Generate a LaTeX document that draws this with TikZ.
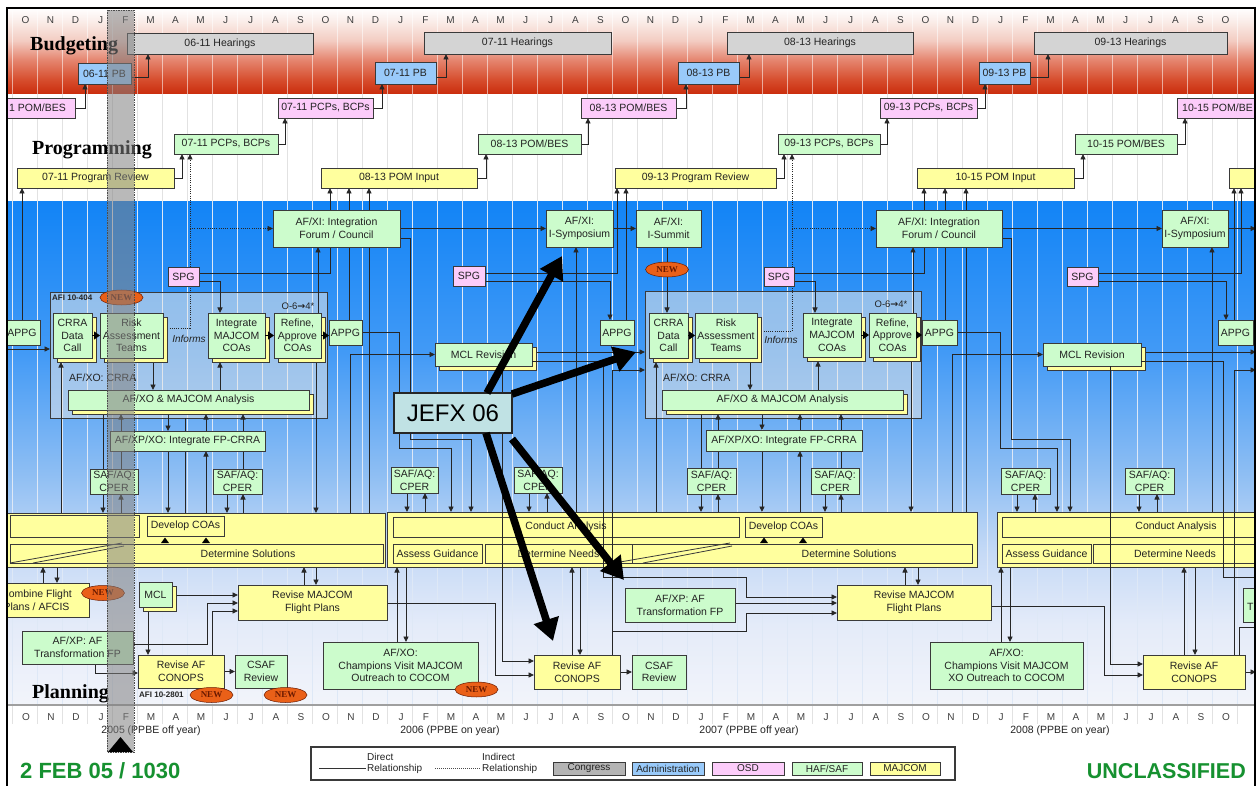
\documentclass[tikz,border=0pt]{standalone}
\usepackage{fontspec}
\setmainfont{Liberation Sans}
\setsansfont{Liberation Sans}
\newfontfamily\serifbold{Liberation Serif}
\newfontfamily\dejavu{DejaVu Sans}
\usetikzlibrary{arrows.meta,shapes.geometric,shadows}

\definecolor{congress}{RGB}{212,212,212}
\definecolor{admin}{RGB}{153,202,250}
\definecolor{osd}{RGB}{252,204,250}
\definecolor{hafsaf}{RGB}{204,252,204}
\definecolor{majcom}{RGB}{255,255,158}
\definecolor{boxline}{RGB}{58,58,58}
\definecolor{inktext}{RGB}{35,35,35}
\definecolor{neworange}{RGB}{234,96,24}
\definecolor{newtext}{RGB}{105,25,0}
\definecolor{jefxfill}{RGB}{192,226,228}
\definecolor{footgreen}{RGB}{22,145,48}
\definecolor{gridplan}{RGB}{222,232,246}
\definecolor{gridprog}{RGB}{226,226,226}
\definecolor{bud1}{RGB}{250,236,232}
\definecolor{bud2}{RGB}{243,204,194}
\definecolor{bud3}{RGB}{229,134,112}
\definecolor{bud4}{RGB}{214,76,44}
\definecolor{bud5}{RGB}{202,44,12}
\definecolor{pl0}{RGB}{242,244,250}
\definecolor{pl1}{RGB}{228,235,249}
\definecolor{pl2}{RGB}{198,218,246}
\definecolor{pl3}{RGB}{142,190,243}
\definecolor{pl4}{RGB}{66,154,246}
\definecolor{pl5}{RGB}{18,132,246}

\pgfdeclareverticalshading{budgetbg}{100bp}{color(0bp)=(bud5); color(25bp)=(bud5); color(33bp)=(bud4); color(45bp)=(bud3); color(56bp)=(bud2); color(67bp)=(bud1); color(75bp)=(white); color(100bp)=(white)}
\pgfdeclareverticalshading{planbg}{100bp}{color(0bp)=(pl0); color(25bp)=(pl0); color(33bp)=(pl1); color(40bp)=(pl2); color(48bp)=(pl3); color(60bp)=(pl4); color(75bp)=(pl5); color(100bp)=(pl5)}

\pgfdeclarelayer{back}
\pgfdeclarelayer{cont}
\pgfdeclarelayer{lines}
\pgfdeclarelayer{over}
\pgfdeclarelayer{front}
\pgfsetlayers{back,cont,lines,main,over,front}

% box from corner (#3,#4) to corner (#5,#6), in pixels
\newcommand\bx[7]{\node[#1,minimum width={#5-#3},minimum height={#6-#4}] (#2) at ({(#3+#5)/2},{(#4+#6)/2}) {#7};}
\newcommand\frameclip{\clip (7,8) rectangle (1255,792);}

\tikzset{
  box/.style={draw=boxline,line width=0.9pt,inner sep=0.6pt,outer sep=0pt,align=center,text=inktext,font=\fontsize{10.5}{12.6}\selectfont},
  hear/.style={box,fill=congress},
  pbox/.style={box,fill=admin},
  osdbox/.style={box,fill=osd},
  hafbox/.style={box,fill=hafsaf},
  majbox/.style={box,fill=majcom},
  shbox/.style={hafbox,general shadow={fill=majcom,draw=boxline,line width=0.9pt,shadow xshift=4pt,shadow yshift=-4pt}},
  contbox/.style={draw=boxline,line width=0.8pt,fill=white!80!gray,fill opacity=0.55,outer sep=0pt},
  newtag/.style={ellipse,fill=neworange,draw=newtext,line width=0.5pt,inner sep=0pt,minimum width=43pt,minimum height=15pt,text=newtext,font=\serifbold\bfseries\fontsize{9}{9}\selectfont},
  arr/.style={draw=black!85,line width=0.9pt,-{Triangle[length=5.5pt,width=5pt]}},
  ln/.style={draw=black!85,line width=0.9pt},
  dots/.style={draw=black!85,line width=0.9pt,dash pattern=on 1pt off 1.2pt,-{Triangle[length=5.5pt,width=5pt]}},
  sh/.style={shorten >=4pt},
  tri/.style={draw=black,line width=0.9pt,-{Triangle[length=6pt,width=8pt]}},
  fat/.style={draw=black,line width=7.5pt,-{Triangle[length=22pt,width=25pt]}},
  lbl/.style={inner sep=0pt,text=inktext,font=\fontsize{10.5}{12}\selectfont},
  small/.style={inner sep=0pt,text=inktext,font=\bfseries\fontsize{8}{8}\selectfont},
  title/.style={anchor=base west,inner sep=0pt,text=black,font=\serifbold\bfseries\fontsize{20}{20}\selectfont},
  legbox/.style={draw=boxline,line width=0.9pt,inner sep=0pt,outer sep=0pt,text=inktext,font=\fontsize{10}{10}\selectfont},
}

\begin{document}
\begin{tikzpicture}[x=1pt,y=-1pt]
\useasboundingbox (0,0) rectangle (1258,786);

% ---------------- bands, month grid, calendar
\begin{pgfonlayer}{back}
\begin{scope}
\frameclip
\fill[white] (0,0) rectangle (1258,800);
\shade[shading=budgetbg] (7,8) rectangle (1255,94);
\shade[shading=planbg] (7,202) rectangle (1255,705);
\foreach \i in {-1,...,48}{
  \draw[white,opacity=0.55,line width=0.8pt] ({37.5+25*\i},8) -- ({37.5+25*\i},94);
  \draw[gridprog,line width=0.8pt] ({37.5+25*\i},94) -- ({37.5+25*\i},202);
  \draw[gridplan,line width=0.8pt] ({37.5+25*\i},202) -- ({37.5+25*\i},705);
  \draw[gridprog,line width=0.6pt] ({37.5+25*\i},705) -- ({37.5+25*\i},724);
}
\draw[gray!75,line width=1.4pt] (7,705) -- (1255,705);
\end{scope}
\end{pgfonlayer}

\foreach \m [count=\i from 0] in {O,N,D,J,F,M,A,M,J,J,A,S,O,N,D,J,F,M,A,M,J,J,A,S,O,N,D,J,F,M,A,M,J,J,A,S,O,N,D,J,F,M,A,M,J,J,A,S,O}{
  \node[lbl,text=black!75,font=\fontsize{10}{10}\selectfont] (mt\i) at ({25.5+25*\i},20) {\m};
  \node[lbl,text=black!75,font=\fontsize{10}{10}\selectfont] (mb\i) at ({26+25*\i},717) {\m};
}
\node[lbl] (yr05) at (151,731) {2005 (PPBE off year)};
\node[lbl] (yr06) at (450,731) {2006 (PPBE on year)};
\node[lbl] (yr07) at (749,731) {2007 (PPBE off year)};
\node[lbl] (yr08) at (1060,731) {2008 (PPBE on year)};

\node[title] (tBud) at (30,51) {Budgeting};
\node[title] (tProg) at (32,155) {Programming};
\node[title] (tPlan) at (32,698) {Planning};

% ---------------- assessment containers
\begin{pgfonlayer}{cont}
\bx{contbox}{contA}{50}{292}{327}{418}{}
\bx{contbox}{contB}{645}{291}{921}{418}{}
\end{pgfonlayer}

% ---------------- boxes
\begin{scope}
\frameclip
% budgeting
\bx{hear}{h0611}{127}{33}{313}{54}{06-11 Hearings}
\bx{hear}{h0711}{424}{32}{611}{54}{07-11 Hearings}
\bx{hear}{h0813}{727}{32}{913}{54}{08-13 Hearings}
\bx{hear}{h0913}{1034}{32}{1227}{54}{09-13 Hearings}
\bx{pbox}{pb0611}{78}{63}{131}{84}{06-11 PB}
\bx{pbox}{pb0711}{375}{62}{436}{84}{07-11 PB}
\bx{pbox}{pb0813}{678}{62}{739}{84}{08-13 PB}
\bx{pbox}{pb0913}{979}{62}{1030}{84}{09-13 PB}
% programming
\bx{osdbox}{osd0611}{-22}{98}{75}{118}{}
\node[lbl,anchor=west] (osd0611txt) at (9,108) {1 POM/BES};
\bx{osdbox}{osd0711}{278}{98}{373}{118}{07-11 PCPs, BCPs}
\bx{osdbox}{osd0813}{581}{98}{676}{118}{08-13 POM/BES}
\bx{osdbox}{osd0913}{880}{98}{977}{118}{09-13 PCPs, BCPs}
\bx{osdbox}{osd1015}{1177}{98}{1277}{118}{}
\node[lbl,anchor=east] (osd1015txt) at (1253,108) {10-15 POM/BE};
\bx{hafbox}{haf0711}{174}{134}{278}{154}{07-11 PCPs, BCPs}
\bx{hafbox}{haf0813}{478}{134}{581}{154}{08-13 POM/BES}
\bx{hafbox}{haf0913}{778}{134}{880}{154}{09-13 PCPs, BCPs}
\bx{hafbox}{haf1015}{1075}{134}{1177}{154}{10-15 POM/BES}
\bx{majbox}{rev0711}{17}{168}{174}{188}{07-11 Program Review}
\bx{majbox}{inp0813}{321}{168}{477}{188}{08-13 POM Input}
\bx{majbox}{rev0913}{615}{168}{776}{188}{09-13 Program Review}
\bx{majbox}{inp1015}{917}{168}{1074}{188}{10-15 POM Input}
\bx{majbox}{rev1117}{1229}{168}{1390}{188}{}
% planning: forums
\bx{hafbox}{forumA}{273}{210}{400}{247}{AF/XI: Integration\\Forum / Council}
\bx{hafbox}{sympA}{546}{210}{613}{247}{AF/XI:\\I-Symposium}
\bx{hafbox}{summitA}{636}{210}{701}{247}{AF/XI:\\I-Summit}
\bx{hafbox}{forumB}{876}{210}{1002}{247}{AF/XI: Integration\\Forum / Council}
\bx{hafbox}{sympB}{1162}{210}{1228}{247}{AF/XI:\\I-Symposium}
\bx{osdbox}{spgA}{168}{267}{199}{286}{SPG}
\bx{osdbox}{spgB}{453}{266}{485}{286}{SPG}
\bx{osdbox}{spgC}{764}{267}{794}{286}{SPG}
\bx{osdbox}{spgD}{1067}{267}{1098}{286}{SPG}
\bx{hafbox}{appgZ}{4}{320}{40}{345}{APPG}
\bx{hafbox}{appgA}{329}{320}{362}{345}{APPG}
\bx{hafbox}{appgB}{600}{320}{634}{345}{APPG}
\bx{hafbox}{appgC}{922}{320}{957}{345}{APPG}
\bx{hafbox}{appgD}{1218}{320}{1253}{345}{APPG}
% risk assessment, first container
\bx{shbox}{crraA}{53}{313}{92}{358}{CRRA\\Data\\Call}
\bx{shbox}{riskA}{100}{313}{163}{358}{Risk\\Assessment\\Teams}
\bx{shbox}{integA}{208}{313}{265}{358}{Integrate\\MAJCOM\\COAs}
\bx{shbox}{refineA}{274}{313}{321}{358}{Refine,\\Approve\\COAs}
\bx{shbox}{analA}{68}{390}{309}{410}{AF/XO \& MAJCOM Analysis}
\bx{hafbox}{fpA}{110}{431}{265}{451}{AF/XP/XO: Integrate FP-CRRA}
\bx{hafbox}{cperA1}{90}{469}{138}{494}{SAF/AQ:\\CPER}
\bx{hafbox}{cperA2}{213}{469}{262}{494}{SAF/AQ:\\CPER}
% risk assessment, second container
\bx{shbox}{crraB}{649}{313}{688}{358}{CRRA\\Data\\Call}
\bx{shbox}{riskB}{695}{313}{757}{358}{Risk\\Assessment\\Teams}
\bx{shbox}{integB}{803}{313}{861}{357}{Integrate\\MAJCOM\\COAs}
\bx{shbox}{refineB}{869}{313}{916}{357}{Refine,\\Approve\\COAs}
\bx{shbox}{analB}{662}{390}{903}{410}{AF/XO \& MAJCOM Analysis}
\bx{hafbox}{fpB}{706}{430}{862}{451}{AF/XP/XO: Integrate FP-CRRA}
\bx{hafbox}{cperB1}{687}{468}{736}{494}{SAF/AQ:\\CPER}
\bx{hafbox}{cperB2}{811}{468}{859}{494}{SAF/AQ:\\CPER}
% between containers
\bx{shbox}{mclrA}{435}{343}{532}{366}{MCL Revision}
\bx{shbox}{mclrB}{1043}{343}{1141}{366}{MCL Revision}
\bx{hafbox}{cperM1}{391}{467}{438}{493}{SAF/AQ:\\CPER}
\bx{hafbox}{cperM2}{514}{467}{562}{493}{SAF/AQ:\\CPER}
\bx{hafbox}{cperM3}{1001}{468}{1050}{494}{SAF/AQ:\\CPER}
\bx{hafbox}{cperM4}{1125}{468}{1174}{494}{SAF/AQ:\\CPER}
% MAJCOM analysis blocks
\bx{majbox}{ybA}{-12}{513}{385}{567}{}
\bx{majbox}{conA}{10}{515}{139}{537}{}
\bx{majbox}{devA}{147}{516}{224}{536}{Develop COAs}
\bx{majbox}{solA}{10}{544}{383}{563}{}
\node[lbl] (solAtxt) at (248,554) {Determine Solutions};
\bx{majbox}{ybB}{387}{512}{977}{567}{}
\bx{majbox}{conB}{393}{517}{739}{537}{Conduct Analysis}
\bx{majbox}{devB}{745}{517}{822}{537}{Develop COAs}
\bx{majbox}{assB}{393}{544}{482}{563}{Assess Guidance}
\bx{majbox}{needB}{485}{544}{632}{563}{Determine Needs}
\bx{majbox}{solB}{632}{544}{972}{563}{}
\node[lbl] (solBtxt) at (849,554) {Determine Solutions};
\bx{majbox}{ybC}{997}{512}{1300}{567}{}
\bx{majbox}{conC}{1002}{517}{1350}{537}{Conduct Analysis}
\bx{majbox}{assC}{1002}{544}{1091}{563}{Assess Guidance}
\bx{majbox}{needC}{1093}{544}{1257}{563}{Determine Needs}
% lower planning row
\bx{majbox}{combA}{-16}{583}{89}{617}{Combine Flight\\Plans / AFCIS}
\bx{shbox}{mclA}{139}{582}{172}{607}{MCL}
\bx{majbox}{rmjA}{238}{585}{387}{620}{Revise MAJCOM\\Flight Plans}
\bx{hafbox}{xpA}{22}{631}{133}{664}{AF/XP: AF\\Transformation FP}
\bx{majbox}{conopsA}{138}{655}{224}{688}{Revise AF\\CONOPS}
\bx{hafbox}{csafA}{235}{655}{287}{688}{CSAF\\Review}
\bx{hafbox}{champA}{323}{642}{478}{689}{AF/XO:\\Champions Visit MAJCOM\\Outreach to COCOM}
\bx{majbox}{conopsB}{534}{655}{620}{689}{Revise AF\\CONOPS}
\bx{hafbox}{csafB}{632}{655}{686}{689}{CSAF\\Review}
\bx{hafbox}{xpB}{625}{588}{735}{622}{AF/XP: AF\\Transformation FP}
\bx{majbox}{rmjB}{837}{585}{991}{620}{Revise MAJCOM\\Flight Plans}
\bx{hafbox}{champB}{930}{642}{1083}{689}{AF/XO:\\Champions Visit MAJCOM\\XO Outreach to COCOM}
\bx{majbox}{conopsC}{1143}{655}{1245}{689}{Revise AF\\CONOPS}
\bx{hafbox}{xpC}{1243}{588}{1353}{622}{}
\node[lbl,anchor=west] (xpCtxt) at (1247,607) {T};
% small labels
\node[small,anchor=west] (afiA) at (52,298) {AFI 10-404};
\node[small,anchor=west] (afiB) at (139,695) {AFI 10-2801};
\node[lbl,font=\fontsize{9.5}{10}\selectfont] (o6A) at (298,306) {O-6{\dejavu\bfseries →}4*};
\node[lbl,font=\fontsize{9.5}{10}\selectfont] (o6B) at (891,304) {O-6{\dejavu\bfseries →}4*};
\node[lbl,font=\itshape\fontsize{10}{10}\selectfont] (infA) at (189,339) {Informs};
\node[lbl,font=\itshape\fontsize{10}{10}\selectfont] (infB) at (781,340) {Informs};
\node[lbl,anchor=west] (crraLblA) at (69,378) {AF/XO: CRRA};
\node[lbl,anchor=west] (crraLblB) at (663,378) {AF/XO: CRRA};
\end{scope}

% free ends at the frame edge
\coordinate (edgeL) at (7,349);
\coordinate (edgeS) at (1256,228.5);
\coordinate (edgeM) at (1256,352);
\coordinate (edgeN) at (1258,577);
\coordinate (edgeP) at (1256,370);
\coordinate (edgeQ) at (1258,627);
\coordinate (edgeC) at (1256,672);

% ---------------- connectors
\begin{pgfonlayer}{lines}
\begin{scope}
\frameclip
% budget / program chain
\draw[arr] (osd0611.east) -| (85,0 |- pb0611.south);
\draw[arr] ([yshift=-4pt]pb0611.east) -| (148,0 |- h0611.south);
\draw[arr] (rev0711.east) -| (182,0 |- haf0711.south);
\draw[arr] (haf0711.east) -| (285,0 |- osd0711.south);
\draw[arr] (osd0711.east) -| (382,0 |- pb0711.south);
\draw[arr] ([yshift=-4pt]pb0711.east) -| (446,0 |- h0711.south);
\draw[arr] (inp0813.east) -| (486,0 |- haf0813.south);
\draw[arr] (haf0813.east) -| (588,0 |- osd0813.south);
\draw[arr] (osd0813.east) -| (686,0 |- pb0813.south);
\draw[arr] ([yshift=-4pt]pb0813.east) -| (749,0 |- h0813.south);
\draw[arr] (rev0913.east) -| (784,0 |- haf0913.south);
\draw[arr] (haf0913.east) -| (887,0 |- osd0913.south);
\draw[arr] (osd0913.east) -| (985,0 |- pb0913.south);
\draw[arr] ([yshift=-4pt]pb0913.east) -| (1048,0 |- h0913.south);
\draw[arr] (inp1015.east) -| (1083,0 |- haf1015.south);
\draw[arr] (haf1015.east) -| (1185,0 |- osd1015.south);
% planning feeds into programming
\draw[arr] (22,0 |- appgZ.north) -- (22,0 |- rev0711.south);
\draw[arr] (spgA.east |- 0,273) -| (330,0 |- inp0813.south);
\draw[arr] (spgA.east |- 0,281) -| (220,0 |- integA.north);
\draw[arr] (349,0 |- appgA.north) -- (349,0 |- inp0813.south);
\draw[arr] (369,0 |- ybA.north) -- (369,0 |- inp0813.south);
\draw[arr] (318,0 |- refineA.north) -- (318,0 |- forumA.south);
\draw[arr] (spgB.east |- 0,273) -| (617,0 |- rev0913.south);
\draw[arr] (spgB.east |- 0,281) -| (610,0 |- appgB.north);
\draw[arr] (626,0 |- appgB.north) -- (626,0 |- rev0913.south);
\draw[arr] (spgC.east |- 0,273) -| (924,0 |- inp1015.south);
\draw[arr] (spgC.east |- 0,281) -| (815,0 |- integB.north);
\draw[arr] (945,0 |- appgC.north) -- (945,0 |- inp1015.south);
\draw[arr] (966,0 |- ybB.north) -- (966,0 |- inp1015.south);
\draw[arr] (913,0 |- refineB.north) -- (913,0 |- forumB.south);
\draw[arr] (spgD.east |- 0,273) -| (1241,0 |- rev1117.south);
\draw[arr] (spgD.east |- 0,281) -| (1226,0 |- appgD.north);
\draw[arr] (1234,0 |- appgD.north) -- (1234,0 |- rev1117.south);
% forum row
\draw[arr] (forumA) -- (sympA);
\draw[arr] (sympA) -- (summitA);
\draw[arr] (forumB) -- (sympB);
\draw[arr] (sympB) -- (edgeS);
\draw[arr] (576,0 |- ybB.north) -- (576,0 |- sympA.south);
\draw[arr] (1212,0 |- ybC.north) -- (1212,0 |- sympB.south);
\draw[arr] (667,0 |- summitA.south) -- (667,0 |- crraB.north);
% indirect relationships
\draw[dots] (riskA.east |- 0,328) -| (190,0 |- haf0711.south);
\draw[dots] (190,0 |- forumA.west) -- (forumA.west);
\draw[dots] (riskB.east |- 0,331) -| (792,0 |- haf0913.south);
\draw[dots] (792,0 |- forumB.west) -- (forumB.west);
% forum and APPG outputs to analysis
\draw[arr] (forumA.east |- 0,238) -| (410,439) -| (471,0 |- ybB.north);
\draw[arr] (appgA.east |- 0,332) -| (399,448) -| (451,0 |- ybB.north);
\draw[arr] (forumB.east |- 0,238) -| (1011,439) -| (1070,0 |- ybC.north);
\draw[arr] (appgC.east |- 0,332) -| (1000,448) -| (1057,0 |- ybC.north);
\draw[arr] (edgeL) -- (contA.west |- edgeL);
% first container
\draw[arr] (153,0 |- riskA.south) -- (153,0 |- analA.north);
\draw[arr,sh] (220,0 |- analA.north) -- (220,0 |- integA.south);
\draw[arr,sh] (61,0 |- ybA.north) -- (61,0 |- crraA.south);
\draw[ln] (185,0 |- contA.south) -- (185,0 |- ybA.north);
\draw[arr] (316,0 |- refineA.south) -- (316,0 |- ybA.north);
\draw[arr] (168,0 |- analA.south) -- (168,0 |- fpA.north);
\draw[arr,sh] (206,0 |- fpA.north) -- (206,0 |- analA.south);
\draw[arr] (168,0 |- fpA.south) -- (168,0 |- ybA.north);
\draw[arr] (206,0 |- ybA.north) -- (206,0 |- fpA.south);
\draw[arr,sh] (243,0 |- cperA2.north) -- (243,0 |- analA.south);
\draw[ln] (103,0 |- analA.south) -- (103,0 |- cperA1.north);
\draw[arr,sh] (121,0 |- cperA1.north) -- (121,0 |- analA.south);
\draw[arr] (103,0 |- cperA1.south) -- (103,0 |- ybA.north);
\draw[arr] (121,0 |- ybA.north) -- (121,0 |- cperA1.south);
\draw[arr] (227,0 |- cperA2.south) -- (227,0 |- ybA.north);
\draw[arr] (243,0 |- ybA.north) -- (243,0 |- cperA2.south);
% second container
\draw[arr] (750,0 |- riskB.south) -- (750,0 |- analB.north);
\draw[arr,sh] (818,0 |- analB.north) -- (818,0 |- integB.south);
\draw[arr,sh] (656,0 |- ybB.north) -- (656,0 |- crraB.south);
\draw[arr] (911,0 |- refineB.south) -- (911,0 |- ybB.north);
\draw[arr] (762,0 |- analB.south) -- (762,0 |- fpB.north);
\draw[arr,sh] (800,0 |- fpB.north) -- (800,0 |- analB.south);
\draw[arr] (762,0 |- fpB.south) -- (762,0 |- ybB.north);
\draw[arr] (800,0 |- ybB.north) -- (800,0 |- fpB.south);
\draw[arr,sh] (841,0 |- cperB2.north) -- (841,0 |- analB.south);
\draw[ln] (701,0 |- analB.south) -- (701,0 |- cperB1.north);
\draw[arr,sh] (718,0 |- cperB1.north) -- (718,0 |- analB.south);
\draw[arr] (701,0 |- cperB1.south) -- (701,0 |- ybB.north);
\draw[arr] (718,0 |- ybB.north) -- (718,0 |- cperB1.south);
\draw[arr] (825,0 |- cperB2.south) -- (825,0 |- ybB.north);
\draw[arr] (841,0 |- ybB.north) -- (841,0 |- cperB2.south);
% CPER exchanges
\draw[arr] (407,0 |- cperM1.south) -- (407,0 |- ybB.north);
\draw[arr] (425,0 |- ybB.north) -- (425,0 |- cperM1.south);
\draw[arr] (529,0 |- cperM2.south) -- (529,0 |- ybB.north);
\draw[arr] (547,0 |- ybB.north) -- (547,0 |- cperM2.south);
\draw[arr] (1017,0 |- cperM3.south) -- (1017,0 |- ybC.north);
\draw[arr] (1035,0 |- ybC.north) -- (1035,0 |- cperM3.south);
\draw[arr] (1139,0 |- cperM4.south) -- (1139,0 |- ybC.north);
\draw[arr] (1157,0 |- ybC.north) -- (1157,0 |- cperM4.south);
% MCL revisions
\draw[arr] (350,0 |- ybA.north) |- (mclrA.west);
\draw[arr] (mclrA.east |- 0,352) -- (contB.west |- 0,352);
\draw[arr] (952,0 |- ybB.north) |- (mclrB.west);
\draw[arr] (mclrB.east |- 0,352) -- (edgeM);
% lower row
\draw[arr] (43,0 |- combA.north) -- (43,0 |- ybA.south);
\draw[arr] (57,0 |- ybA.south) -- (57,0 |- combA.north);
\draw[arr] (304,0 |- rmjA.north) -- (304,0 |- ybA.south);
\draw[arr] (316,0 |- ybA.south) -- (316,0 |- rmjA.north);
\draw[arr] (397,0 |- champA.north) -- (397,0 |- ybB.south);
\draw[arr] (406,0 |- ybB.south) -- (406,0 |- champA.north);
\draw[arr] (572,0 |- conopsB.north) -- (572,0 |- ybB.south);
\draw[arr] (580,0 |- ybB.south) -- (580,0 |- conopsB.north);
\draw[arr] (905,0 |- rmjB.north) -- (905,0 |- ybB.south);
\draw[arr] (918,0 |- ybB.south) -- (918,0 |- rmjB.north);
\draw[arr] (1001,0 |- champB.north) -- (1001,0 |- ybC.south);
\draw[arr] (1010,0 |- ybC.south) -- (1010,0 |- champB.north);
\draw[arr] (1184,0 |- conopsC.north) -- (1184,0 |- ybC.south);
\draw[arr] (1195,0 |- ybC.south) -- (1195,0 |- conopsC.north);
\draw[arr] (mclA.east |- 0,595) -- (rmjA.west |- 0,595);
\draw[arr] (xpA.east |- 0,644) -| (207,603) -- (rmjA.west |- 0,603);
\draw[arr] (212,0 |- conopsA.north) |- (rmjA.west |- 0,611);
\draw[arr] (95,0 |- xpA.south) |- (conopsA.west |- 0,673);
\draw[arr] (148,0 |- mclA.south) -- (148,0 |- conopsA.north);
\draw[arr] (conopsA) -- (csafA);
\draw[arr] (conopsB) -- (csafB);
\draw[arr] (conopsC.east) -- (edgeC);
\draw[arr] (rmjA.east |- 0,603) -| (495,675) -- (conopsB.west |- 0,675);
\draw[arr] (rmjB.east |- 0,606) -| (1104,675) -- (conopsC.west |- 0,675);
\draw[arr] (xpB.east |- 0,603) -- (rmjB.west |- 0,603);
\end{scope}
\end{pgfonlayer}

% ---------------- connectors crossing the analysis blocks, small marks, tags
\begin{pgfonlayer}{over}
\begin{scope}
\frameclip
\draw[arr] (mclrA.east |- 0,361) -| (603,577) -| (746,597) -- (rmjB.west |- 0,597);
\draw[arr] (612,0 |- conopsB.north) |- (contB.west |- 0,370);
\draw[arr] (612,0 |- conopsB.north) |- (746,631) |- (rmjB.west |- 0,613);
\draw[arr] (502,0 |- mclrA.south) |- (conopsB.west |- 0,661);
\draw[ln] (mclrB.east |- 0,361) -| (1223,577) -- (edgeN);
\draw[arr] (1110,0 |- mclrB.south) |- (conopsC.west |- 0,664);
\draw[arr] (1234,0 |- conopsC.north) |- (edgeP);
\draw[ln] (1239,0 |- conopsC.north) |- (edgeQ);
\draw[tri] (crraA.east) -- (riskA.west |- crraA.east);
\draw[tri] (integA.east) -- (refineA.west |- integA.east);
\draw[tri] (refineA.east) -- (appgA.west |- refineA.east);
\draw[tri] (crraB.east) -- (riskB.west |- crraB.east);
\draw[tri] (integB.east) -- (refineB.west |- integB.east);
\draw[tri] (refineB.east) -- (appgC.west |- refineB.east);
% arrowheads between Develop COAs and Determine Solutions
\fill[black] (161,543) -- (169,543) -- (165,537.5) -- cycle;
\fill[black] (202,543) -- (210,543) -- (206,537.5) -- cycle;
\fill[black] (760,543) -- (768,543) -- (764,537.5) -- cycle;
\fill[black] (799,543) -- (807,543) -- (803,537.5) -- cycle;
% slanted edges of the solution bars
\draw[boxline,line width=0.8pt] (10,563) -- (122,543);
\draw[boxline,line width=0.8pt] (33,563) -- (124,546);
\draw[boxline,line width=0.8pt] (620,562) -- (730,543);
\draw[boxline,line width=0.8pt] (643,563) -- (732,546);
% NEW tags
\node[newtag] (newA) at (121.5,297.5) {NEW};
\node[newtag] (newB) at (667,269.5) {NEW};
\node[newtag] (newC) at (103,593) {NEW};
\node[newtag] (newD) at (211.5,695) {NEW};
\node[newtag] (newE) at (285.5,695) {NEW};
\node[newtag] (newF) at (476.5,689.5) {NEW};
\end{scope}
\end{pgfonlayer}

% ---------------- current-date bar, JEFX callout, legend
\begin{pgfonlayer}{front}
\begin{scope}
\frameclip
\fill[gray,fill opacity=0.55] (107,10) rectangle (134,752);
\draw[black!70,line width=0.7pt,dash pattern=on 1.5pt off 1pt] (107,10) rectangle (134,752);
\fill[black] (108,752) -- (133,752) -- (120.5,737) -- cycle;
\end{scope}

\bx{box,fill=jefxfill,line width=1.4pt,draw=black!85,text=black,font=\fontsize{24}{24}\selectfont}{jefx}{394}{393}{512}{433}{JEFX 06}
\coordinate (tipA) at (562,256);
\coordinate (tipB) at (636,352);
\coordinate (tipC) at (553,641);
\coordinate (tipD) at (624,580);
\draw[fat] ([xshift=-25pt]jefx.north east) -- (tipA);
\draw[fat] ([yshift=-1pt]jefx.north east) -- (tipB);
\draw[fat] ([xshift=-26pt]jefx.south east) -- (tipC);
\draw[fat] ([yshift=-6pt]jefx.south east) -- (tipD);

\bx{legbox,fill=white,line width=1.2pt}{legend}{311}{747}{955}{780}{}
\draw[black!80,line width=0.9pt] (319,768) -- (366,768);
\draw[black!70,line width=0.9pt,dash pattern=on 1pt off 1pt] (435,768) -- (480,768);
\node[lbl,anchor=west,font=\fontsize{10}{10}\selectfont] (lgD1) at (367,757) {Direct};
\node[lbl,anchor=west,font=\fontsize{10}{10}\selectfont] (lgD2) at (367,769) {Relationship};
\node[lbl,anchor=west,font=\fontsize{10}{10}\selectfont] (lgI1) at (482,757) {Indirect};
\node[lbl,anchor=west,font=\fontsize{10}{10}\selectfont] (lgI2) at (482,769) {Relationship};
\bx{legbox,fill=congress!85!black}{lgC}{553}{762}{625}{775}{Congress}
\bx{legbox,fill=admin}{lgA}{632}{762}{704}{775}{Administration}
\bx{legbox,fill=osd}{lgO}{712}{762}{784}{775}{OSD}
\bx{legbox,fill=hafsaf}{lgH}{792}{762}{862}{775}{HAF/SAF}
\bx{legbox,fill=majcom}{lgM}{870}{762}{940}{775}{MAJCOM}

\node[anchor=base west,inner sep=0pt,text=footgreen,font=\bfseries\fontsize{22}{22}\selectfont] (stamp) at (20,778) {2 FEB 05 / 1030};
\node[anchor=base east,inner sep=0pt,text=footgreen,font=\bfseries\fontsize{21.5}{22}\selectfont] (classif) at (1246,778) {UNCLASSIFIED};

\draw[black,line width=2.4pt] (7,8) rectangle (1255,800);
\end{pgfonlayer}
\end{tikzpicture}
\end{document}
